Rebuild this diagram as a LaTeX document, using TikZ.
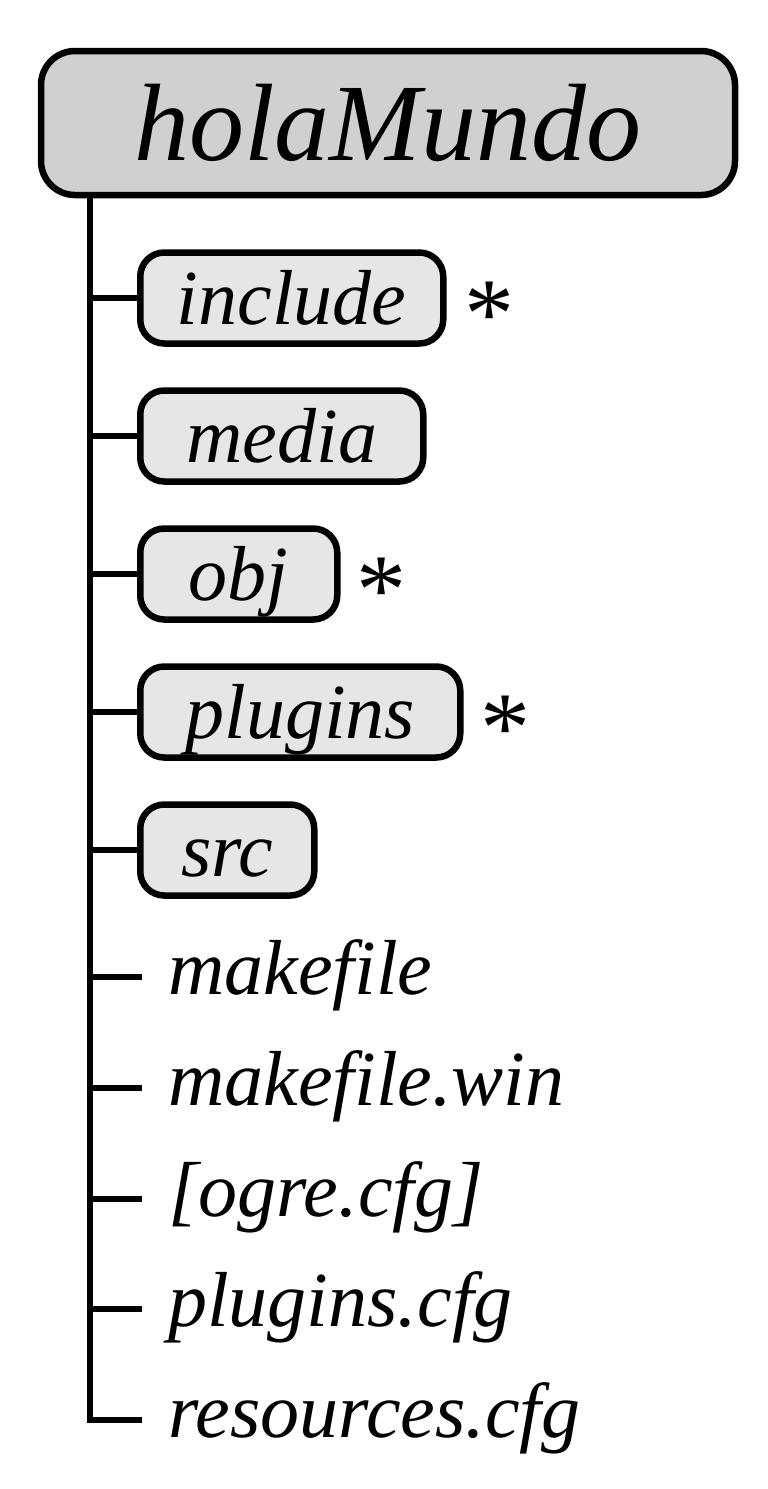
\documentclass[tikz,border=0pt]{standalone}
\usepackage{fontspec}
\setmainfont{Liberation Serif}
\usetikzlibrary{positioning}

\definecolor{rootgray}{RGB}{208,208,208}
\definecolor{dirgray}{RGB}{230,230,230}

\begin{document}
\begin{tikzpicture}[x=1pt, y=-1pt,
    branch/.style={line width=6pt},
    rootbox/.style={draw, line width=6.5pt, rounded corners=34pt, fill=rootgray,
        minimum width=694pt, minimum height=144pt, font=\fontsize{110}{120}\selectfont\itshape},
    dirbox/.style={draw, line width=6.5pt, rounded corners=24pt, fill=dirgray,
        inner xsep=4pt, inner ysep=17.5pt, text height=54pt, text depth=2pt,
        font=\fontsize{78}{90}\selectfont\itshape},
    fileitem/.style={anchor=west, inner xsep=26pt, text height=35pt, text depth=0pt,
        font=\fontsize{78}{90}\selectfont\itshape},
    flag/.style={inner sep=0pt, yshift=-17pt, font=\fontsize{100}{110}\selectfont}]
    \useasboundingbox (0,0) rectangle (768,1489);
    \def\dirtop{298}     % first folder
    \def\dirgap{138}     % folder spacing
    \def\filetop{977}    % first file
    \def\filegap{110.75} % file spacing
    \node[rootbox] (root) at (388,123) {holaMundo};
    % folders
    \foreach \name/\txt/\w [count=\i from 0] in {inc/include/303, media/media/283, obj/obj/197, plug/plugins/320, src/src/174} {
        \node[dirbox, anchor=west, minimum width=\w pt] (\name) at (137, \dirtop+\i*\dirgap) {\txt};
    }
    % files
    \foreach \name/\txt [count=\i from 0] in {mk/makefile, mkwin/makefile.win, ogre/{[ogre.cfg]}, plugcfg/plugins.cfg, res/resources.cfg} {
        \node[fileitem] (\name) at (142, \filetop+\i*\filegap) {\txt};
    }
    % marks next to some folders
    \node[flag, right=18pt of inc] (incflag) {*};
    \node[flag, right=16pt of obj] (objflag) {*};
    \node[flag, right=17pt of plug] (plugflag) {*};
    % tree lines
    \coordinate (trunk) at ([xshift=52pt]root.south west);
    \draw[branch] (trunk) |- (res.west);
    \foreach \name in {inc, media, obj, plug, src, mk, mkwin, ogre, plugcfg}
        \draw[branch] (trunk |- \name.west) -- (\name.west);
\end{tikzpicture}
\end{document}
